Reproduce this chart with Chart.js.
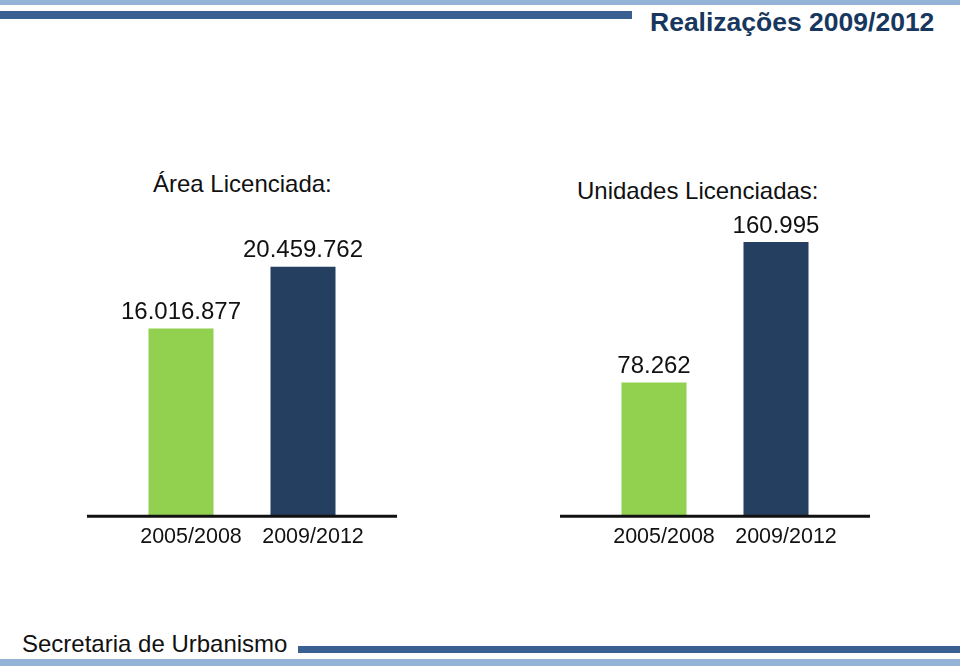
<!DOCTYPE html>
<html>
<head>
<meta charset="utf-8">
<script src="https://cdn.jsdelivr.net/npm/chart.js@4/dist/chart.umd.min.js"></script>
<style>
  body { margin: 0; background: #fff; font-family: "Liberation Sans", Arial, sans-serif; }
  #page { position: relative; width: 960px; height: 666px; overflow: hidden; background: #fff; }
  .abs { position: absolute; }
  .lbl { position: absolute; font-size: 24px; line-height: 1; color: #111; white-space: nowrap; }
</style>
</head>
<body>
<div id="page">
  <div class="abs" style="left:0;top:0;width:960px;height:5px;background:#95b3d7"></div>
  <div class="abs" style="left:0;top:11px;width:632px;height:8px;background:#3a6092"></div>
  <div class="lbl" style="left:650px;top:9px;font-size:26.5px;font-weight:bold;color:#17375e">Realizações 2009/2012</div>

  <div class="lbl" style="left:153px;top:172px">Área Licenciada:</div>
  <div class="lbl" style="left:577px;top:179px">Unidades Licenciadas:</div>

  <canvas id="chartArea" class="abs" style="left:87px;top:200px" width="310" height="360"></canvas>
  <canvas id="chartUnits" class="abs" style="left:560px;top:200px" width="310" height="360"></canvas>

  <div class="lbl" style="left:22px;top:632px">Secretaria de Urbanismo</div>
  <div class="abs" style="left:298px;top:646px;width:662px;height:7px;background:#3a6092"></div>
  <div class="abs" style="left:0;top:659px;width:960px;height:7px;background:#95b3d7"></div>
</div>
<script>
var periods = ['2005/2008', '2009/2012'];
var areaValues = [16016877, 20459762];
var unitValues = [78262, 160995];
var barColors = ['#92d050', '#243f60'];

function formatBR(n) {
    return String(n).replace(/\B(?=(\d{3})+(?!\d))/g, '.');
}

// draws the baseline across the whole canvas and the value above each bar
var barExtras = {
    id: 'barExtras',
    afterDatasetsDraw: function(chart) {
        var ctx = chart.ctx;
        var base = chart.chartArea.bottom;
        ctx.save();
        ctx.strokeStyle = '#111';
        ctx.lineWidth = 3;
        ctx.beginPath();
        ctx.moveTo(0, base + 1);
        ctx.lineTo(chart.width, base + 1);
        ctx.stroke();

        ctx.fillStyle = '#111';
        ctx.font = '24px "Liberation Sans", Arial, sans-serif';
        ctx.textAlign = 'center';
        ctx.textBaseline = 'middle';
        var meta = chart.getDatasetMeta(0);
        meta.data.forEach(function(bar, i) {
            var v = chart.data.datasets[0].data[i];
            ctx.fillText(formatBR(v), bar.x, bar.y - 16);
        });
        ctx.restore();
    }
};

function makeChart(id, values, yMin, yMax) {
    var ctx = document.getElementById(id).getContext('2d');
    return new Chart(ctx, {
        type: 'bar',
        data: {
            labels: periods,
            datasets: [{
                data: values,
                backgroundColor: barColors,
                borderWidth: 0,
                categoryPercentage: 1,
                barPercentage: 0.533
            }]
        },
        options: {
            responsive: false,
            animation: false,
            layout: { padding: { top: 40, bottom: 1, left: 33, right: 33 } },
            plugins: { legend: { display: false }, tooltip: { enabled: false } },
            scales: {
                x: {
                    grid: { display: false, drawTicks: false },
                    border: { display: false },
                    ticks: {
                        color: '#111',
                        padding: 9,
                        labelOffset: 10,
                        font: { family: '"Liberation Sans", Arial, sans-serif', size: 21.5 }
                    }
                },
                y: {
                    display: false,
                    min: yMin,
                    max: yMax
                }
            }
        },
        plugins: [barExtras]
    });
}

makeChart('chartArea', areaValues, 2545000, 22395000);
makeChart('chartUnits', unitValues, 0, 162170);
</script>
</body>
</html>
